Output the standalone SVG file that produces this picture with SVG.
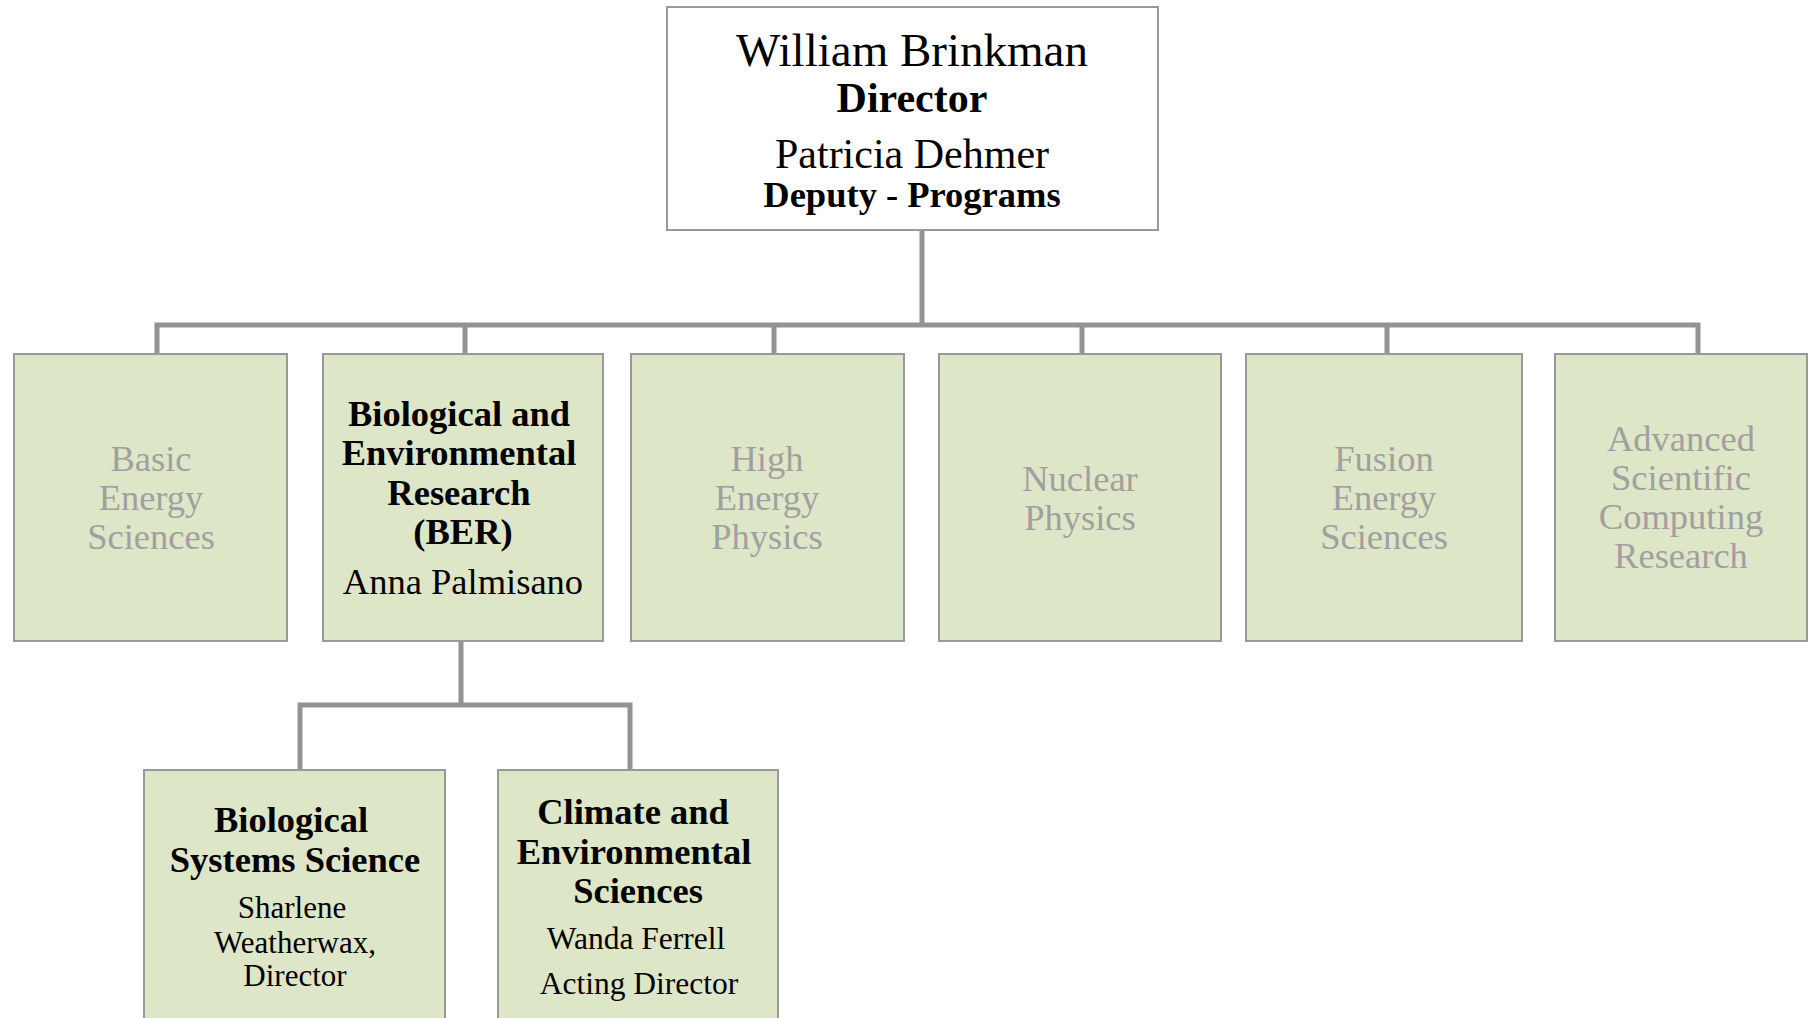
<svg xmlns="http://www.w3.org/2000/svg" width="1808" height="1018" viewBox="0 0 1808 1018">
<style>
.box{fill:#DEE6C8;stroke:#999999;stroke-width:2}
.top{fill:#FFFFFF;stroke:#999999;stroke-width:2}
.conn{fill:none;stroke:#939393;stroke-width:5}
text{font-family:"Liberation Serif","Times New Roman",serif;text-anchor:middle}
.g{fill:#A0A0A0;font-size:36.5px}
.b{font-weight:bold;fill:#000}
.r{fill:#000}
</style>
<rect width="1808" height="1018" fill="#FFFFFF"/>
<g id="connectors">
<path class="conn" d="M922 230 V325 M157 356 V325 H1698 V356 M465 325 V356 M774 325 V356 M1082 325 V356 M1387 325 V356"/>
<path class="conn" d="M461 642 V705 M300 772 V705 H630 V772"/>
</g>
<g id="director">
<rect class="top" x="667" y="7" width="491" height="223"/>
<text class="r" x="912" y="66" font-size="47">William Brinkman</text>
<text class="b" x="912" y="112" font-size="42">Director</text>
<text class="r" x="912" y="168" font-size="42">Patricia Dehmer</text>
<text class="b" x="912" y="207" font-size="36.5">Deputy - Programs</text>
</g>
<g id="bes">
<rect class="box" x="14" y="354" width="273" height="287"/>
<text class="g" x="151" y="471">Basic</text>
<text class="g" x="151" y="510">Energy</text>
<text class="g" x="151" y="549">Sciences</text>
</g>
<g id="ber">
<rect class="box" x="323" y="354" width="280" height="287"/>
<text class="b" x="459" y="426" font-size="36.5">Biological and</text>
<text class="b" x="459" y="465" font-size="36.5">Environmental</text>
<text class="b" x="459" y="505" font-size="36.5">Research</text>
<text class="b" x="463" y="544" font-size="36.5">(BER)</text>
<text class="r" x="463" y="594" font-size="36.5">Anna Palmisano</text>
</g>
<g id="hep">
<rect class="box" x="631" y="354" width="273" height="287"/>
<text class="g" x="767" y="471">High</text>
<text class="g" x="767" y="510">Energy</text>
<text class="g" x="767" y="549">Physics</text>
</g>
<g id="np">
<rect class="box" x="939" y="354" width="282" height="287"/>
<text class="g" x="1080" y="491">Nuclear</text>
<text class="g" x="1080" y="530">Physics</text>
</g>
<g id="fes">
<rect class="box" x="1246" y="354" width="276" height="287"/>
<text class="g" x="1384" y="471">Fusion</text>
<text class="g" x="1384" y="510">Energy</text>
<text class="g" x="1384" y="549">Sciences</text>
</g>
<g id="ascr">
<rect class="box" x="1555" y="354" width="252" height="287"/>
<text class="g" x="1681" y="451">Advanced</text>
<text class="g" x="1681" y="490">Scientific</text>
<text class="g" x="1681" y="529">Computing</text>
<text class="g" x="1681" y="568">Research</text>
</g>
<g id="bss">
<rect class="box" x="144" y="770" width="301" height="260"/>
<text class="b" x="291" y="832" font-size="36.5">Biological</text>
<text class="b" x="295" y="872" font-size="36.5">Systems Science</text>
<text class="r" x="292" y="918" font-size="31">Sharlene</text>
<text class="r" x="295" y="953" font-size="31">Weatherwax,</text>
<text class="r" x="295" y="986" font-size="31">Director</text>
</g>
<g id="ces">
<rect class="box" x="498" y="770" width="280" height="260"/>
<text class="b" x="633" y="824" font-size="36.5">Climate and</text>
<text class="b" x="634" y="864" font-size="36.5">Environmental</text>
<text class="b" x="638" y="903" font-size="36.5">Sciences</text>
<text class="r" x="636" y="949" font-size="31.5">Wanda Ferrell</text>
<text class="r" x="639" y="994" font-size="31.5">Acting Director</text>
</g>
</svg>
